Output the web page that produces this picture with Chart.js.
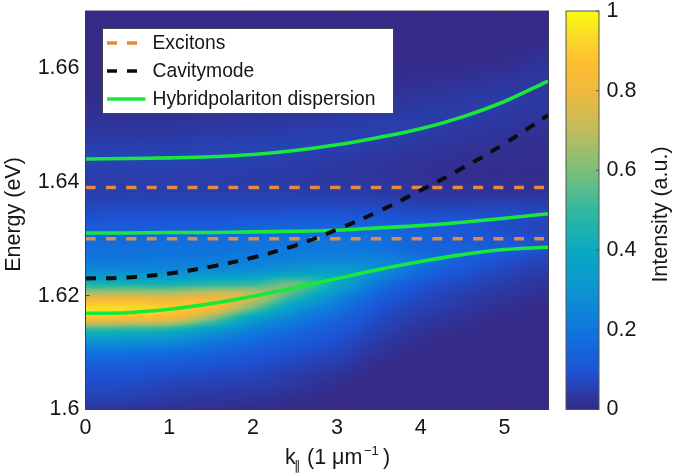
<!DOCTYPE html>
<html>
<head>
<meta charset="utf-8">
<title>Polariton dispersion</title>
<script src="https://cdn.jsdelivr.net/npm/chart.js@4"></script>
<style>
  html, body { margin: 0; padding: 0; background: #fff; }
  canvas { display: block; }
</style>
</head>
<body>
<canvas id="myChart" width="675" height="476"></canvas>
<script>
// line data
const kValues = [0, 0.5, 1, 1.5, 2, 2.5, 3, 3.5, 4, 4.5, 5, 5.52];
const excitonLow = [1.63, 1.63, 1.63, 1.63, 1.63, 1.63, 1.63, 1.63, 1.63, 1.63, 1.63, 1.63];
const excitonHigh = [1.639, 1.639, 1.639, 1.639, 1.639, 1.639, 1.639, 1.639, 1.639, 1.639, 1.639, 1.639];
const cavityMode = [1.623, 1.6232, 1.6239, 1.6251, 1.6267, 1.6288, 1.6316, 1.6348, 1.6385, 1.6424, 1.6467, 1.6517];
const upperBranch = [1.644, 1.6441, 1.6442, 1.6444, 1.6448, 1.6455, 1.6465, 1.6478, 1.6493, 1.6514, 1.6541, 1.6577];
const middleBranch = [1.631, 1.631, 1.6311, 1.6311, 1.6312, 1.6313, 1.6315, 1.6319, 1.6323, 1.6329, 1.6336, 1.6344];
const lowerBranch = [1.6169, 1.617, 1.6176, 1.6186, 1.6199, 1.6214, 1.623, 1.6246, 1.626, 1.6272, 1.6281, 1.6285];

const legendLabels = ['Excitons', 'Cavitymode', 'Hybridpolariton dispersion'];
const energyTicks = [1.6, 1.62, 1.64, 1.66];
const intensityTicks = [0, 0.2, 0.4, 0.6, 0.8, 1];

// heat map: energy runs 1.600 .. 1.670 in steps of 0.002, one list per k column
const heatEnergyStart = 1.6;
const heatEnergyStep = 0.002;
const heatK = [0, 0.5, 1, 1.5, 2, 2.5, 3, 3.5, 4, 4.5, 5, 5.5];
const heatK00 = [.025,.06,.08,.1,.14,.2,.31,.5,.87,.93,.72,.45,.29,.21,.185,.165,.12,.09,.065,.05,.045,.05,.06,.05,.035,.025,.015,.01,.005,0,0,0,0,0,0,0];
const heatK05 = [.025,.055,.075,.1,.135,.195,.3,.49,.85,.93,.73,.45,.29,.21,.185,.165,.122,.092,.066,.05,.045,.05,.06,.05,.036,.025,.015,.01,.005,0,0,0,0,0,0,0];
const heatK10 = [.02,.04,.06,.085,.12,.18,.28,.46,.82,.9,.72,.45,.29,.22,.19,.17,.125,.095,.07,.05,.045,.05,.06,.052,.038,.027,.017,.01,.005,0,0,0,0,0,0,0];
const heatK15 = [.015,.03,.05,.075,.105,.15,.22,.35,.62,.85,.76,.48,.3,.22,.19,.175,.13,.1,.07,.05,.045,.048,.058,.055,.042,.03,.02,.012,.006,0,0,0,0,0,0,0];
const heatK20 = [.008,.025,.045,.065,.09,.12,.17,.24,.36,.6,.72,.5,.31,.23,.2,.18,.14,.1,.07,.05,.042,.045,.055,.058,.045,.034,.023,.014,.007,.002,0,0,0,0,0,0];
const heatK25 = [.002,.012,.03,.045,.065,.09,.125,.17,.24,.34,.5,.58,.35,.25,.21,.19,.15,.105,.07,.05,.038,.04,.048,.055,.05,.038,.026,.017,.009,.003,0,0,0,0,0,0];
const heatK30 = [0,0,.01,.025,.045,.068,.09,.115,.155,.21,.28,.39,.36,.26,.21,.19,.15,.105,.07,.045,.033,.033,.04,.05,.05,.042,.03,.02,.012,.005,0,0,0,0,0,0];
const heatK35 = [0,0,0,0,.01,.025,.04,.06,.08,.105,.145,.2,.28,.25,.2,.18,.145,.1,.065,.04,.028,.025,.03,.04,.048,.046,.036,.025,.015,.008,.002,0,0,0,0,0];
const heatK40 = [0,0,0,0,0,.004,.012,.025,.04,.06,.08,.11,.16,.2,.155,.145,.125,.09,.055,.03,.02,.018,.022,.03,.04,.045,.04,.03,.02,.012,.005,0,0,0,0,0];
const heatK45 = [0,0,0,0,0,0,0,.01,.02,.035,.05,.07,.1,.13,.145,.115,.11,.09,.055,.028,.014,.012,.016,.022,.03,.038,.042,.038,.028,.018,.008,.002,0,0,0,0];
const heatK50 = [0,0,0,0,0,0,0,0,.005,.015,.03,.045,.065,.09,.12,.10,.08,.085,.06,.025,.012,.01,.012,.016,.022,.03,.036,.04,.035,.025,.014,.006,.001,0,0,0];
const heatK55 = [0,0,0,0,0,0,0,0,0,.003,.012,.025,.04,.06,.09,.08,.065,.07,.05,.022,.01,.008,.01,.012,.016,.022,.028,.032,.035,.035,.028,.018,.008,.002,0,0];
const heatColumns = [heatK00, heatK05, heatK10, heatK15, heatK20, heatK25, heatK30, heatK35, heatK40, heatK45, heatK50, heatK55];

const FONT = '"Liberation Sans", Arial, sans-serif';
const TEXT = '#161616';
const ORANGE = '#e38b42';
const GREEN = '#18e83e';
const BLACK = '#0b0b0b';

// parula colormap as in the colour bar
const colorStops = [
    [0, 53, 42, 135], [0.1, 28, 84, 214], [0.2, 15, 118, 222], [0.3, 12, 148, 210],
    [0.4, 8, 170, 193], [0.5, 50, 184, 160], [0.6, 124, 191, 123], [0.7, 190, 189, 92],
    [0.8, 240, 185, 62], [0.87, 254, 190, 50], [0.93, 250, 215, 40], [1, 249, 251, 14]
];

function colorFor(v) {
    v = Math.max(0, Math.min(1, v));
    for (let i = 1; i < colorStops.length; i++) {
        if (v <= colorStops[i][0]) {
            const a = colorStops[i - 1], b = colorStops[i];
            const t = (v - a[0]) / (b[0] - a[0]);
            return [a[1] + t * (b[1] - a[1]), a[2] + t * (b[2] - a[2]), a[3] + t * (b[3] - a[3])];
        }
    }
    return colorStops[colorStops.length - 1].slice(1);
}

function toPoints(ys) {
    return kValues.map((k, i) => ({ x: k, y: ys[i] }));
}

// catmull-rom between the cells of the table, only to smooth the picture
function spline(p0, p1, p2, p3, t) {
    return 0.5 * (2 * p1 + (p2 - p0) * t + (2 * p0 - 5 * p1 + 4 * p2 - p3) * t * t + (3 * p1 - p0 - 3 * p2 + p3) * t * t * t);
}

function heatAt(k, energy) {
    const cols = heatColumns.length, rows = heatK00.length;
    const cx = Math.min(cols - 1, Math.max(0, k / (heatK[1] - heatK[0])));
    const cy = Math.min(rows - 1, Math.max(0, (energy - heatEnergyStart) / heatEnergyStep));
    const ix = Math.min(cols - 2, Math.floor(cx)), iy = Math.min(rows - 2, Math.floor(cy));
    const col = c => heatColumns[Math.max(0, Math.min(cols - 1, c))];
    const row = (c, r) => c[Math.max(0, Math.min(rows - 1, r))];
    const vals = [];
    for (let c = ix - 1; c <= ix + 2; c++) {
        const cc = col(c);
        vals.push(spline(row(cc, iy - 1), row(cc, iy), row(cc, iy + 1), row(cc, iy + 2), cy - iy));
    }
    return Math.max(0, spline(vals[0], vals[1], vals[2], vals[3], cx - ix));
}

let heatImage = null;

const heatmapPlugin = {
    id: 'heatmap',
    beforeDatasetsDraw(chart) {
        const area = chart.chartArea, ctx = chart.ctx;
        const xs = chart.scales.x, ys = chart.scales.y;
        const w = Math.ceil(area.right - area.left), h = Math.ceil(area.bottom - area.top);
        if (!heatImage) {
            heatImage = document.createElement('canvas');
            heatImage.width = w;
            heatImage.height = h;
            const c2 = heatImage.getContext('2d');
            const img = c2.createImageData(w, h);
            for (let j = 0; j < h; j++) {
                const energy = ys.getValueForPixel(area.top + j + 0.5);
                for (let i = 0; i < w; i++) {
                    const rgb = colorFor(heatAt(xs.getValueForPixel(area.left + i + 0.5), energy));
                    const p = (j * w + i) * 4;
                    img.data[p] = rgb[0];
                    img.data[p + 1] = rgb[1];
                    img.data[p + 2] = rgb[2];
                    img.data[p + 3] = 255;
                }
            }
            c2.putImageData(img, 0, 0);
        }
        ctx.drawImage(heatImage, area.left, area.top, area.right - area.left, area.bottom - area.top);
    }
};

function rotatedText(ctx, text, x, y) {
    ctx.save();
    ctx.translate(x, y);
    ctx.rotate(-Math.PI / 2);
    ctx.textAlign = 'center';
    ctx.textBaseline = 'middle';
    ctx.fillText(text, 0, 0);
    ctx.restore();
}

const framePlugin = {
    id: 'frame',
    afterDatasetsDraw(chart) {
        const ctx = chart.ctx, area = chart.chartArea;
        const xs = chart.scales.x, ys = chart.scales.y, bar = chart.scales.barScale;
        ctx.save();

        // box and inward ticks
        ctx.strokeStyle = '#3a3a4a';
        ctx.lineWidth = 1;
        ctx.strokeRect(area.left, area.top, area.right - area.left, area.bottom - area.top);
        ctx.beginPath();
        xs.ticks.forEach(t => {
            const px = xs.getPixelForValue(t.value);
            ctx.moveTo(px, area.bottom); ctx.lineTo(px, area.bottom - 4);
            ctx.moveTo(px, area.top); ctx.lineTo(px, area.top + 4);
        });
        ys.ticks.forEach(t => {
            const py = ys.getPixelForValue(t.value);
            ctx.moveTo(area.left, py); ctx.lineTo(area.left + 4, py);
            ctx.moveTo(area.right, py); ctx.lineTo(area.right - 4, py);
        });
        ctx.stroke();

        // colour bar
        const barLeft = 566, barRight = 599;
        for (let py = Math.floor(bar.top); py < bar.bottom; py++) {
            const rgb = colorFor(bar.getValueForPixel(py + 0.5));
            ctx.fillStyle = 'rgb(' + rgb.map(Math.round).join(',') + ')';
            ctx.fillRect(barLeft, py, barRight - barLeft, 1);
        }
        ctx.strokeStyle = '#55554f';
        ctx.strokeRect(barLeft, bar.top, barRight - barLeft, bar.bottom - bar.top);
        ctx.beginPath();
        bar.ticks.forEach(t => {
            const py = bar.getPixelForValue(t.value);
            ctx.moveTo(barRight, py); ctx.lineTo(barRight - 3, py);
        });
        ctx.stroke();

        // legend
        const boxL = 102, boxT = 28, boxW = 291, boxH = 85;
        ctx.fillStyle = '#fff';
        ctx.fillRect(boxL, boxT, boxW, boxH);
        ctx.strokeStyle = '#44444e';
        ctx.strokeRect(boxL + 0.5, boxT + 0.5, boxW, boxH);
        const rowY = [43, 71, 99];
        const rowColor = [ORANGE, BLACK, GREEN];
        ctx.font = '19.3px ' + FONT;
        ctx.textBaseline = 'middle';
        ctx.textAlign = 'left';
        legendLabels.forEach((label, i) => {
            ctx.strokeStyle = rowColor[i];
            ctx.lineWidth = 3.6;
            ctx.setLineDash(i < 2 ? [10, 10] : []);
            ctx.beginPath();
            ctx.moveTo(107, rowY[i]);
            ctx.lineTo(i < 2 ? 137 : 145.5, rowY[i]);
            ctx.stroke();
            ctx.setLineDash([]);
            ctx.fillStyle = TEXT;
            ctx.fillText(label, 152.5, rowY[i] + 0.5);
        });

        // axis titles
        ctx.fillStyle = TEXT;
        ctx.font = '21.5px ' + FONT;
        rotatedText(ctx, 'Energy (eV)', 14, 214.5);
        rotatedText(ctx, 'Intensity (a.u.)', 661.5, 214.5);

        ctx.textAlign = 'left';
        ctx.textBaseline = 'alphabetic';
        ctx.font = '21.5px ' + FONT;
        ctx.fillText('k', 285, 464);
        ctx.font = '13px ' + FONT;
        ctx.fillText('\u2225', 294, 470);
        ctx.font = '21.5px ' + FONT;
        ctx.fillText('(1 \u03bcm', 307, 464);
        ctx.font = '13px ' + FONT;
        ctx.fillText('\u22121', 364, 455);
        ctx.font = '21.5px ' + FONT;
        ctx.fillText(')', 383, 464);
        ctx.restore();
    }
};

// the tick padding would otherwise also be reserved above and below the plot
function fixVertical(width) {
    return function (scale) {
        scale.width = width;
        scale.paddingTop = 0;
        scale.paddingBottom = 0;
    };
}

const ctx = document.getElementById('myChart').getContext('2d');
const chart = new Chart(ctx, {
    type: 'scatter',
    data: {
        datasets: [
            { label: 'Excitons', data: toPoints(excitonHigh), borderColor: ORANGE, borderWidth: 3.6, borderDash: [10, 10.4], order: 3 },
            { label: 'Excitons', data: toPoints(excitonLow), borderColor: ORANGE, borderWidth: 3.6, borderDash: [10, 10.4], order: 3 },
            { label: 'Cavitymode', data: toPoints(cavityMode), borderColor: BLACK, borderWidth: 4, borderDash: [10.5, 10], order: 1 },
            { label: 'Hybridpolariton dispersion', data: toPoints(upperBranch), borderColor: GREEN, borderWidth: 3.6, order: 2 },
            { label: 'Hybridpolariton dispersion', data: toPoints(middleBranch), borderColor: GREEN, borderWidth: 3.6, order: 2 },
            { label: 'Hybridpolariton dispersion', data: toPoints(lowerBranch), borderColor: GREEN, borderWidth: 3.6, order: 2 }
        ]
    },
    options: {
        responsive: false,
        animation: false,
        layout: { padding: { top: 11, left: 0, right: 0, bottom: 0 } },
        datasets: {
            scatter: { showLine: true, fill: false, pointRadius: 0, tension: 0.4, borderCapStyle: 'butt' }
        },
        plugins: {
            legend: { display: false },
            tooltip: { enabled: false }
        },
        scales: {
            x: {
                type: 'linear',
                min: 0,
                max: 5.526,
                grid: { display: false, drawTicks: false },
                border: { display: false },
                ticks: {
                    stepSize: 1,
                    includeBounds: false,
                    padding: 6,
                    maxRotation: 0,
                    color: TEXT,
                    font: { family: FONT, size: 21.5 },
                    callback: v => String(v)
                },
                afterFit(scale) {
                    scale.height = 66.5;
                    scale.paddingLeft = 0;
                    scale.paddingRight = 0;
                }
            },
            y: {
                type: 'linear',
                min: 1.6,
                max: 1.67,
                grid: { display: false, drawTicks: false },
                border: { display: false },
                afterBuildTicks(scale) { scale.ticks = energyTicks.map(v => ({ value: v })); },
                ticks: {
                    padding: 6,
                    color: TEXT,
                    font: { family: FONT, size: 21.5 },
                    callback: v => String(parseFloat(v.toFixed(2)))
                },
                afterFit: fixVertical(85.5)
            },
            barScale: {
                type: 'linear',
                position: 'right',
                min: 0,
                max: 1,
                grid: { display: false, drawTicks: false },
                border: { display: false },
                afterBuildTicks(scale) { scale.ticks = intensityTicks.map(v => ({ value: v })); },
                ticks: {
                    padding: 58,
                    color: TEXT,
                    font: { family: FONT, size: 21.5 },
                    callback: v => String(parseFloat(v.toFixed(1)))
                },
                afterFit: fixVertical(126.5)
            }
        }
    },
    plugins: [heatmapPlugin, framePlugin]
});
</script>
</body>
</html>
